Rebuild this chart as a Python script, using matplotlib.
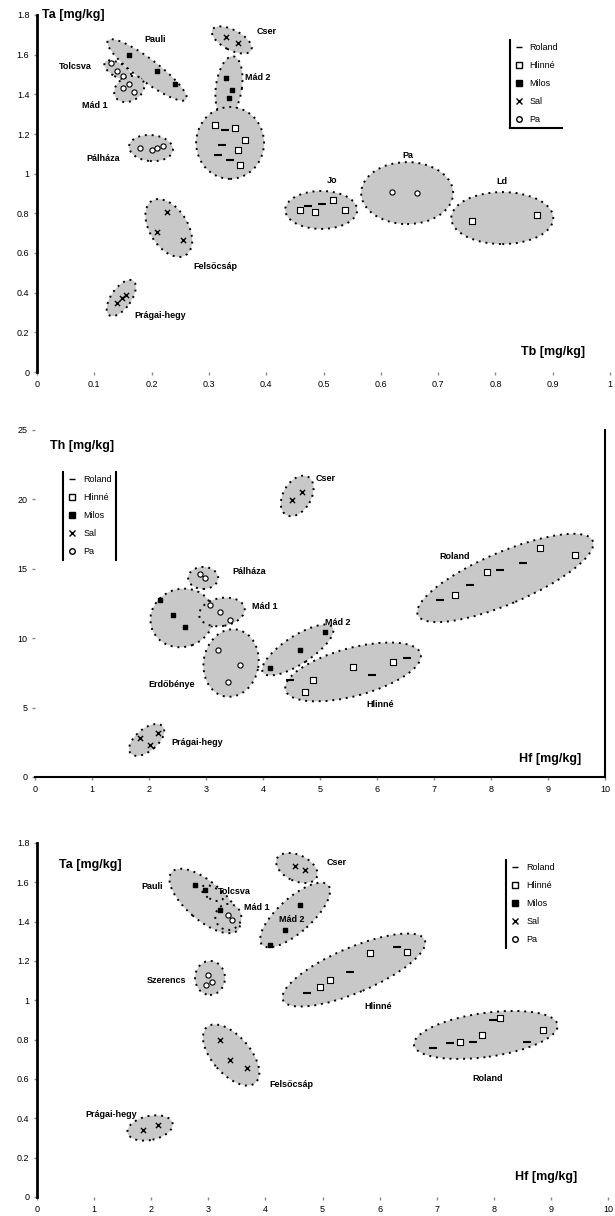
import matplotlib
matplotlib.use("Agg")
import matplotlib.pyplot as plt
import numpy as np
from matplotlib.patches import Ellipse
from matplotlib.lines import Line2D
from matplotlib.transforms import ScaledTranslation
from matplotlib.ticker import FuncFormatter

plt.rcParams['font.family'] = ['Liberation Sans', 'DejaVu Sans']

groups = ["Roland", "Hlinné", "Milos", "Sal", "Pa"]

# ---- panel A: Ta vs Tb ----
a_lab = ["Pauli", "Tolcsva", "Mád 1", "Pálháza", "Cser", "Mád 2", "", "Felsőcsáp", "Prágai-hegy", "Jo", "Pa", "Ld"]
a_cx = [0.192, 0.141, 0.161, 0.199, 0.340, 0.335, 0.337, 0.230, 0.147, 0.496, 0.646, 0.812]
a_cy = [1.523, 1.523, 1.427, 1.129, 1.674, 1.437, 1.155, 0.726, 0.373, 0.817, 0.902, 0.776]
a_w = [98, 30, 32, 44, 44, 62, 68, 64, 42, 72, 92, 102]
a_h = [22, 14, 24, 26, 20, 26, 72, 38, 20, 38, 62, 52]
a_ang = [-37, -30, 30, -5, -28, 82, 0, -58, 55, 0, 0, 0]
a_tx = [0.206, 0.066, 0.101, 0.115, 0.400, 0.386, 0, 0.312, 0.215, 0.515, 0.647, 0.812]
a_ty = [1.674, 1.538, 1.346, 1.074, 1.719, 1.487, 0, 0.534, 0.287, 0.968, 1.094, 0.958]
a_px = [0.13, 0.14, 0.15, 0.16, 0.21, 0.24, 0.15, 0.17, 0.16, 0.18, 0.20, 0.21, 0.22,
        0.33, 0.35, 0.33, 0.34, 0.335,
        0.311, 0.328, 0.346, 0.323, 0.351, 0.337, 0.363, 0.316, 0.354,
        0.227, 0.209, 0.255, 0.140, 0.148, 0.155,
        0.459, 0.473, 0.485, 0.497, 0.517, 0.538, 0.620, 0.663, 0.759, 0.873]
a_py = [1.56, 1.52, 1.49, 1.60, 1.52, 1.45, 1.43, 1.41, 1.45, 1.13, 1.12, 1.13, 1.14,
        1.69, 1.66, 1.48, 1.42, 1.38,
        1.245, 1.220, 1.230, 1.145, 1.119, 1.069, 1.170, 1.094, 1.044,
        0.807, 0.706, 0.666, 0.348, 0.373, 0.390,
        0.817, 0.837, 0.807, 0.847, 0.867, 0.817, 0.908, 0.903, 0.761, 0.792]
a_pg = [4, 4, 4, 2, 2, 2, 4, 4, 4, 4, 4, 4, 4,
        3, 3, 2, 2, 2,
        1, 0, 1, 0, 1, 0, 1, 0, 1,
        3, 3, 3, 3, 3, 3,
        1, 0, 1, 0, 1, 1, 4, 4, 1, 1]

# ---- panel B: Th vs Hf ----
b_lab = ["Cser", "Pálháza", "", "Mád 1", "Erdőbénye", "Mád 2", "Hlinné", "Roland", "Prágai-hegy"]
b_cx = [4.60, 2.95, 2.58, 3.28, 3.44, 4.61, 5.58, 8.25, 1.96]
b_cy = [20.25, 14.34, 11.46, 11.89, 8.21, 9.15, 7.57, 14.34, 2.67]
b_w = [44, 30, 64, 46, 68, 83, 140, 190, 42]
b_h = [28, 22, 58, 28, 55, 28, 48, 52, 22]
b_ang = [60, 0, 20, 10, 80, 33, 15, 23, 40]
b_tx = [5.10, 3.75, 0, 4.04, 2.40, 5.32, 6.05, 7.37, 2.85]
b_ty = [21.50, 14.84, 0, 12.25, 6.63, 11.10, 5.19, 15.92, 2.45]
b_px = [4.68, 4.51, 2.98, 2.89, 2.42, 2.63, 2.19, 3.25, 3.07, 3.42, 3.21, 3.39, 3.60,
        4.12, 4.65, 5.09, 4.88, 5.58, 5.91, 6.28, 6.53, 4.74, 4.47,
        8.86, 8.56, 7.93, 7.63, 7.37, 8.16, 9.47, 7.11, 2.02, 1.84, 2.16]
b_py = [20.53, 19.96, 14.34, 14.63, 11.67, 10.81, 12.75, 11.89, 12.39, 11.31, 9.15, 6.84, 8.07,
        7.85, 9.15, 10.45, 6.99, 7.93, 7.35, 8.29, 8.57, 6.12, 6.99,
        16.50, 15.42, 14.77, 13.83, 13.11, 14.91, 15.99, 12.75, 2.31, 2.81, 3.17]
b_pg = [3, 3, 4, 4, 2, 2, 2, 4, 4, 4, 4, 4, 4,
        2, 2, 2, 1, 1, 0, 1, 0, 1, 0,
        1, 0, 1, 0, 1, 0, 1, 0, 3, 3, 3]

# ---- panel C: Ta vs Hf ----
c_lab = ["Pauli", "Tolcsva", "Mád 1", "Cser", "Mád 2", "Szerencs", "Hlinné", "Roland", "Felsőcsáp", "Prágai-hegy"]
c_cx = [2.94, 3.07, 3.35, 4.55, 4.52, 3.03, 5.55, 7.86, 3.40, 1.98]
c_cy = [1.505, 1.545, 1.424, 1.673, 1.434, 1.114, 1.154, 0.824, 0.722, 0.351]
c_w = [88, 24, 26, 44, 89, 30, 154, 145, 74, 46]
c_h = [38, 12, 26, 26, 34, 34, 45, 44, 38, 24]
c_ang = [-41, -30, 0, -25, 42, 0, 23, 8, -49, 12]
c_tx = [2.01, 3.45, 3.85, 5.24, 4.47, 2.26, 5.97, 7.90, 4.45, 1.30]
c_ty = [1.581, 1.551, 1.470, 1.699, 1.409, 1.103, 0.971, 0.605, 0.570, 0.417]
c_px = [2.94, 3.20, 2.77, 3.35, 3.42, 4.52, 4.69, 4.08, 4.61, 4.34, 2.99, 3.06, 2.96,
        5.83, 6.30, 6.48, 5.48, 4.96, 4.73, 5.13,
        6.94, 7.41, 7.64, 7.79, 7.99, 8.11, 8.58, 8.86, 7.23,
        3.20, 3.38, 3.68, 1.86, 2.12]
c_py = [1.561, 1.459, 1.587, 1.434, 1.409, 1.683, 1.663, 1.281, 1.485, 1.358, 1.129, 1.093, 1.078,
        1.241, 1.271, 1.246, 1.144, 1.068, 1.037, 1.103,
        0.758, 0.788, 0.788, 0.824, 0.900, 0.910, 0.788, 0.849, 0.783,
        0.798, 0.697, 0.656, 0.341, 0.366]
c_pg = [2, 2, 2, 4, 4, 3, 3, 2, 2, 2, 4, 4, 4,
        1, 0, 1, 0, 1, 0, 1,
        0, 1, 0, 1, 0, 1, 0, 1, 0,
        3, 3, 3, 3, 3]

styles = [dict(marker='_', color='black', s=30, linewidths=1.5),
          dict(marker='s', facecolors='white', edgecolors='black', s=16, linewidths=0.8),
          dict(marker='s', color='black', s=8),
          dict(marker='x', color='black', s=14, linewidths=1),
          dict(marker='o', facecolors='white', edgecolors='black', s=14, linewidths=0.8)]

fig = plt.figure(figsize=(6.15, 12.16), dpi=100)
ax1 = fig.add_axes([37/615, 1-372/1216, 573/615, 357/1216])
ax2 = fig.add_axes([35/615, 1-777/1216, 570/615, 347/1216])
ax3 = fig.add_axes([37/615, 1-1197/1216, 571/615, 354/1216])


def panel(ax, cx, cy, w, h, ang, lab, tx, ty, px, py, pg):
    for x, y, a, b, t in zip(cx, cy, w, h, ang):
        tr = fig.dpi_scale_trans + ScaledTranslation(x, y, ax.transData)
        ax.add_patch(Ellipse((0, 0), a/100, b/100, angle=t, transform=tr,
                             facecolor='#c8c8c8', edgecolor='black',
                             linestyle=(0, (1, 2.5)), linewidth=1.4, zorder=1))
    px, py, pg = np.array(px), np.array(py), np.array(pg)
    for g in range(5):
        m = pg == g
        ax.scatter(px[m], py[m], zorder=3, **styles[g])
    for t, x, y in zip(lab, tx, ty):
        if t:
            ax.text(x, y, t, fontsize=6.5, fontweight='bold', ha='center', va='center', zorder=4)
    ax.tick_params(labelsize=6.5, length=2, width=1, color='#888888')
    ax.xaxis.set_major_formatter(FuncFormatter(lambda v, p: f"{v:g}"))
    ax.yaxis.set_major_formatter(FuncFormatter(lambda v, p: f"{v:g}"))
    for s in ax.spines.values():
        s.set_visible(False)
    handles = [Line2D([], [], linestyle='none', markersize=4,
                      marker=styles[g]['marker'],
                      markerfacecolor=styles[g].get('facecolors', 'black'),
                      markeredgecolor=styles[g].get('edgecolors', 'black'))
               for g in range(5)]
    return handles


h = panel(ax1, a_cx, a_cy, a_w, a_h, a_ang, a_lab, a_tx, a_ty, a_px, a_py, a_pg)
ax1.set_xlim(0, 1)
ax1.set_ylim(0, 1.8)
ax1.set_xticks(np.arange(0, 1.01, 0.1))
ax1.set_yticks(np.arange(0, 1.81, 0.2))
ax1.spines['left'].set_visible(True)
ax1.spines['left'].set_linewidth(2)
ax1.text(0.009, 1.0, "Ta [mg/kg]", transform=ax1.transAxes, fontsize=9, fontweight='bold', va='center')
ax1.text(0.90, 0.056, "Tb [mg/kg]", transform=ax1.transAxes, fontsize=9, fontweight='bold', ha='center', va='center')
leg1 = ax1.legend(h, groups, loc='upper left', bbox_to_anchor=(0.817, 0.944), frameon=False,
                  fontsize=6.5, labelspacing=1.0, handletextpad=0.6, handlelength=1.2)

h = panel(ax2, b_cx, b_cy, b_w, b_h, b_ang, b_lab, b_tx, b_ty, b_px, b_py, b_pg)
ax2.set_xlim(0, 10)
ax2.set_ylim(0, 25)
ax2.set_xticks(np.arange(0, 11, 1))
ax2.set_yticks(np.arange(0, 26, 5))
for s in ['bottom', 'right']:
    ax2.spines[s].set_visible(True)
    ax2.spines[s].set_linewidth(1.5)
ax2.text(0.082, 0.954, "Th [mg/kg]", transform=ax2.transAxes, fontsize=9, fontweight='bold', ha='center', va='center')
ax2.text(0.904, 0.052, "Hf [mg/kg]", transform=ax2.transAxes, fontsize=9, fontweight='bold', ha='center', va='center')
leg2 = ax2.legend(h, groups, loc='upper left', bbox_to_anchor=(0.042, 0.893), frameon=False,
                  fontsize=6.5, labelspacing=1.0, handletextpad=0.6, handlelength=1.2)

h = panel(ax3, c_cx, c_cy, c_w, c_h, c_ang, c_lab, c_tx, c_ty, c_px, c_py, c_pg)
ax3.set_xlim(0, 10)
ax3.set_ylim(0, 1.8)
ax3.set_xticks(np.arange(0, 11, 1))
ax3.set_yticks(np.arange(0, 1.81, 0.2))
ax3.spines['left'].set_visible(True)
ax3.spines['left'].set_linewidth(2)
ax3.text(0.093, 0.938, "Ta [mg/kg]", transform=ax3.transAxes, fontsize=9, fontweight='bold', ha='center', va='center')
ax3.text(0.891, 0.056, "Hf [mg/kg]", transform=ax3.transAxes, fontsize=9, fontweight='bold', ha='center', va='center')
leg3 = ax3.legend(h, groups, loc='upper left', bbox_to_anchor=(0.814, 0.966), frameon=False,
                  fontsize=6.5, labelspacing=1.0, handletextpad=0.6, handlelength=1.2)

# partial legend frames
fig.canvas.draw()
inv = fig.transFigure.inverted()


def frame(leg, sides, lw):
    bb = leg.get_window_extent()
    (x0, y0), (x1, y1) = inv.transform([[bb.x0, bb.y0], [bb.x1, bb.y1]])
    seg = {'left': ([x0, x0], [y0, y1]), 'right': ([x1, x1], [y0, y1]),
           'bottom': ([x0, x1], [y0, y0])}
    for s in sides:
        fig.add_artist(Line2D(*seg[s], color='black', linewidth=lw, transform=fig.transFigure))


frame(leg1, ['left', 'bottom'], 1.5)
frame(leg2, ['left', 'right'], 1.5)
frame(leg3, ['left'], 1.5)

fig.savefig("out.png", dpi=100)
